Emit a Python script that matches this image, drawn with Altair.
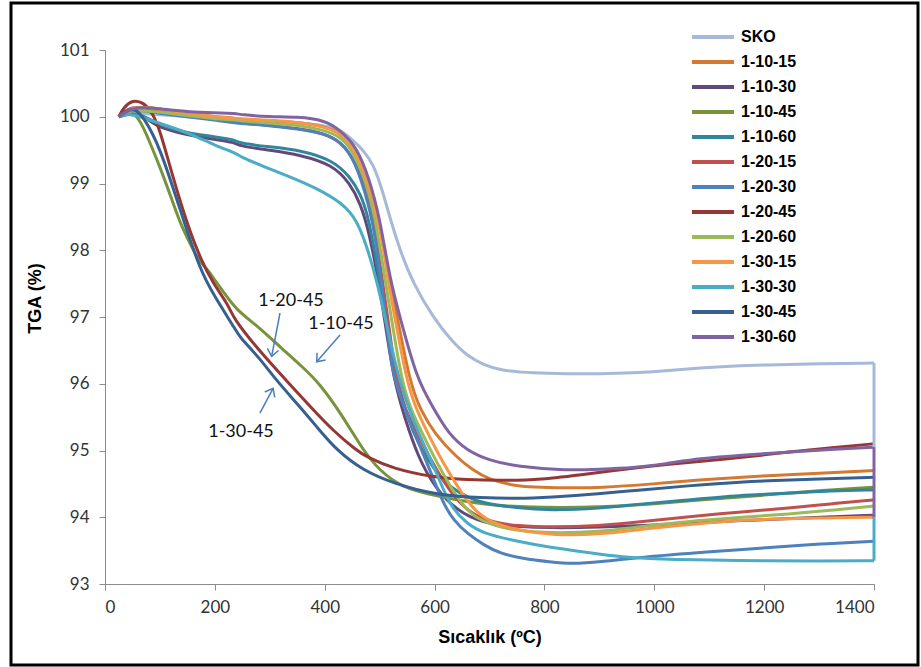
import altair as alt
import pandas as pd

SERIES = ["SKO", "1-10-15", "1-10-30", "1-10-45", "1-10-60", "1-20-15", "1-20-30",
          "1-20-45", "1-20-60", "1-30-15", "1-30-30", "1-30-45", "1-30-60"]
COLORS = ["#A7B9D8", "#D27A32", "#604A7B", "#77933C", "#31859C", "#C0504D", "#4F81BD",
          "#953735", "#9BBB59", "#F79646", "#4BACC6", "#376092", "#8064A2"]

SKO_T = [25, 40, 70, 120, 200, 300, 400, 430, 451, 470, 488, 505, 520, 537, 561, 597, 630, 659, 690, 719, 780, 841, 900, 961, 1020, 1083, 1150, 1200, 1300, 1400]
SKO_V = [100.0, 100.05, 100.05, 100.02, 99.97, 99.95, 99.88, 99.8, 99.65, 99.5, 99.3, 98.9, 98.45, 98.0, 97.5, 97.0, 96.65, 96.42, 96.28, 96.2, 96.16, 96.15, 96.15, 96.16, 96.19, 96.24, 96.27, 96.28, 96.3, 96.31]

S11015_T = [25, 45, 70, 100, 150, 200, 240, 250, 300, 350, 400, 430, 455, 475, 495, 510, 525, 555, 575, 600, 640, 670, 701, 740, 779, 840, 901, 1000, 1083, 1200, 1300, 1400]
S11015_V = [100.0, 100.1, 100.15, 100.12, 100.05, 100.0, 99.98, 99.95, 99.93, 99.92, 99.86, 99.75, 99.5, 99.1, 98.55, 97.95, 97.3, 96.0, 95.6, 95.25, 94.9, 94.7, 94.56, 94.48, 94.45, 94.44, 94.44, 94.5, 94.56, 94.62, 94.66, 94.7]

S11030_T = [25, 45, 70, 94, 130, 155, 200, 235, 245, 300, 355, 415, 446, 465, 480, 498, 512, 526, 545, 570, 600, 640, 688, 750, 810, 900, 1000, 1150, 1300, 1400]
S11030_V = [100.0, 100.05, 100.02, 99.85, 99.77, 99.72, 99.66, 99.62, 99.56, 99.5, 99.43, 99.28, 99.0, 98.7, 98.3, 97.55, 96.8, 96.06, 95.5, 94.9, 94.45, 94.1, 93.91, 93.86, 93.84, 93.85, 93.88, 93.95, 94.0, 94.03]

S11045_T = [25, 45, 64, 80, 100, 120, 137, 155, 170, 188, 200, 218, 240, 280, 319, 360, 391, 430, 470, 500, 540, 597, 688, 800, 900, 1000, 1100, 1200, 1300, 1400]
S11045_V = [100.0, 100.12, 99.95, 99.65, 99.25, 98.8, 98.4, 98.1, 97.85, 97.7, 97.55, 97.35, 97.1, 96.85, 96.55, 96.25, 96.0, 95.55, 95.0, 94.7, 94.45, 94.33, 94.18, 94.14, 94.15, 94.2, 94.27, 94.33, 94.4, 94.45]

S11060_T = [25, 45, 70, 94, 130, 155, 200, 235, 245, 300, 355, 415, 446, 465, 480, 500, 515, 532, 550, 570, 600, 628, 660, 688, 750, 810, 900, 974, 1050, 1156, 1250, 1320, 1400]
S11060_V = [100.0, 100.05, 100.02, 99.9, 99.8, 99.75, 99.7, 99.66, 99.6, 99.55, 99.5, 99.35, 99.1, 98.85, 98.5, 97.55, 96.8, 96.06, 95.5, 95.1, 94.7, 94.45, 94.3, 94.21, 94.14, 94.1, 94.13, 94.2, 94.25, 94.33, 94.36, 94.4, 94.41]

S12015_T = [25, 40, 60, 100, 150, 200, 240, 300, 350, 400, 430, 455, 480, 492, 505, 518, 530, 545, 565, 597, 630, 670, 710, 750, 810, 900, 974, 1050, 1156, 1247, 1320, 1400]
S12015_V = [100.0, 100.12, 100.15, 100.1, 100.02, 99.97, 99.92, 99.87, 99.83, 99.75, 99.62, 99.35, 98.8, 98.3, 97.55, 96.8, 96.06, 95.65, 95.3, 94.8, 94.35, 94.02, 93.92, 93.87, 93.85, 93.87, 93.93, 94.0, 94.08, 94.14, 94.2, 94.26]

S12030_T = [25, 40, 60, 100, 150, 200, 240, 300, 350, 400, 430, 455, 480, 492, 503, 514, 524, 560, 592, 616, 635, 659, 690, 719, 760, 810, 852, 900, 974, 1096, 1216, 1300, 1400]
S12030_V = [100.0, 100.08, 100.1, 100.05, 100.0, 99.95, 99.9, 99.87, 99.82, 99.75, 99.62, 99.35, 98.7, 98.2, 97.55, 96.8, 96.06, 95.33, 94.7, 94.2, 93.95, 93.76, 93.58, 93.46, 93.38, 93.33, 93.3, 93.33, 93.4, 93.48, 93.55, 93.6, 93.64]

S12045_T = [25, 35, 50, 70, 87, 100, 120, 149, 175, 197, 225, 232, 280, 330, 380, 415, 458, 477, 524, 597, 659, 720, 792, 880, 974, 1060, 1156, 1247, 1330, 1400]
S12045_V = [100.0, 100.15, 100.25, 100.22, 100.05, 99.8, 99.2, 98.4, 97.85, 97.5, 97.18, 97.0, 96.5, 96.05, 95.6, 95.3, 95.0, 94.9, 94.73, 94.6, 94.56, 94.55, 94.56, 94.65, 94.75, 94.82, 94.89, 94.98, 95.05, 95.1]

S12060_T = [25, 40, 60, 100, 150, 200, 240, 300, 350, 400, 430, 455, 480, 495, 510, 525, 540, 555, 575, 605, 640, 670, 710, 750, 810, 900, 974, 1050, 1156, 1247, 1320, 1400]
S12060_V = [100.0, 100.08, 100.1, 100.07, 100.02, 99.97, 99.95, 99.9, 99.88, 99.8, 99.7, 99.45, 98.9, 98.35, 97.55, 96.8, 96.06, 95.65, 95.3, 94.8, 94.3, 94.0, 93.87, 93.8, 93.76, 93.78, 93.86, 93.93, 94.0, 94.05, 94.1, 94.17]

S13015_T = [25, 40, 60, 100, 150, 200, 240, 300, 350, 400, 430, 455, 480, 500, 515, 532, 549, 565, 585, 616, 650, 677, 710, 750, 810, 900, 974, 1050, 1156, 1247, 1320, 1400]
S13015_V = [100.0, 100.1, 100.15, 100.12, 100.05, 100.0, 99.97, 99.95, 99.92, 99.85, 99.75, 99.52, 99.0, 98.4, 97.55, 96.8, 96.06, 95.65, 95.3, 94.8, 94.35, 94.06, 93.9, 93.81, 93.73, 93.74, 93.82, 93.88, 93.96, 93.98, 93.99, 94.0]

S13030_T = [25, 40, 64, 100, 155, 200, 240, 246, 290, 337, 380, 434, 458, 475, 495, 515, 535, 560, 600, 628, 660, 688, 750, 810, 880, 943, 1000, 1065, 1200, 1300, 1400]
S13030_V = [100.0, 100.05, 100.0, 99.9, 99.75, 99.57, 99.45, 99.4, 99.25, 99.1, 98.95, 98.7, 98.45, 98.1, 97.55, 96.8, 96.06, 95.45, 94.75, 94.15, 93.9, 93.76, 93.64, 93.55, 93.47, 93.4, 93.38, 93.36, 93.35, 93.34, 93.35]

S13045_T = [25, 40, 55, 70, 100, 137, 173, 200, 240, 245, 280, 312, 350, 386, 422, 470, 524, 604, 688, 750, 810, 900, 974, 1060, 1156, 1250, 1330, 1400]
S13045_V = [100.0, 100.1, 100.12, 100.0, 99.55, 98.6, 97.7, 97.3, 96.78, 96.7, 96.4, 96.05, 95.7, 95.35, 95.0, 94.7, 94.51, 94.33, 94.29, 94.28, 94.3, 94.35, 94.41, 94.47, 94.53, 94.56, 94.58, 94.6]

S13060_T = [25, 40, 60, 100, 155, 200, 240, 246, 300, 350, 400, 428, 458, 480, 500, 519, 537, 568, 597, 625, 659, 700, 750, 841, 900, 961, 1020, 1083, 1156, 1250, 1330, 1400]
S13060_V = [100.0, 100.08, 100.15, 100.12, 100.07, 100.06, 100.05, 100.03, 100.0, 100.0, 99.95, 99.8, 99.55, 99.1, 98.5, 97.55, 97.0, 96.06, 95.65, 95.25, 95.0, 94.85, 94.76, 94.7, 94.72, 94.74, 94.8, 94.88, 94.93, 94.98, 95.02, 95.05]

# vertical end segments at 1400 °C
END_SERIES = ["SKO", "1-30-30", "1-30-60"]
END_FROM = [96.31, 93.35, 95.05]
END_TO = [95.05, 94.0, 94.0]

# annotations
ANN_TEXT = ["1-20-45", "1-10-45", "1-30-45"]
ANN_TX = [338.6, 429.6, 247.6]
ANN_TY = [97.24, 96.90, 95.28]
ARR_X1 = [318.6, 427.8, 282.0]
ARR_Y1 = [97.06, 96.73, 95.56]
ARR_X2 = [303.4, 385.4, 306.0]
ARR_Y2 = [96.41, 96.33, 95.93]
ARR_ANG = [100.9, 131.1, 298.1]

X_TICKS = [0, 200, 400, 600, 800, 1000, 1200, 1400]
Y_TICKS = [93, 94, 95, 96, 97, 98, 99, 100, 101]

ALL = [(SKO_T, SKO_V), (S11015_T, S11015_V), (S11030_T, S11030_V), (S11045_T, S11045_V),
       (S11060_T, S11060_V), (S12015_T, S12015_V), (S12030_T, S12030_V), (S12045_T, S12045_V),
       (S12060_T, S12060_V), (S13015_T, S13015_V), (S13030_T, S13030_V), (S13045_T, S13045_V),
       (S13060_T, S13060_V)]

rows = []
for k, (name, (ts, vs)) in enumerate(zip(SERIES, ALL)):
    for t, v in zip(ts, vs):
        rows.append({"series": name, "order": k, "T": t, "V": v})
df = pd.DataFrame(rows)

end_df = pd.DataFrame({"series": END_SERIES, "T": [1400] * 3, "V": END_FROM, "V2": END_TO})
ann_df = pd.DataFrame({"label": ANN_TEXT, "T": ANN_TX, "V": ANN_TY})
arr_df = pd.DataFrame({"x1": ARR_X1, "y1": ARR_Y1, "x2": ARR_X2, "y2": ARR_Y2, "ang": ARR_ANG})

xscale = alt.Scale(domain=[0, 1400], nice=False, zero=False)
yscale = alt.Scale(domain=[93, 101], nice=False, zero=False)
cscale = alt.Scale(domain=SERIES, range=COLORS)

legend = alt.Legend(
    title=None, orient="none", legendX=585, legendY=-25.5,
    symbolType="stroke", symbolSize=1764, symbolStrokeWidth=4,
    labelFont="Liberation Sans", labelFontSize=16, labelFontWeight="bold",
    labelColor="#000000", labelOffset=5, clipHeight=25, rowPadding=0, padding=0,
)

xaxis = alt.Axis(
    values=X_TICKS, format="d", grid=False, tickSize=6, domainColor="#8C8C8C", tickColor="#8C8C8C",
    labelFont="Lato", labelFontSize=17, labelColor="#333333", labelPadding=9,
    title="Sıcaklık (ºC)", titleFont="Liberation Sans", titleFontSize=18,
    titleFontWeight="bold", titleColor="#000000", titleBaseline="middle", titleY=53,
)
yaxis = alt.Axis(
    values=Y_TICKS, format="d", grid=False, tickSize=6, domainColor="#8C8C8C", tickColor="#8C8C8C",
    labelFont="Lato", labelFontSize=17, labelColor="#333333", labelPadding=10,
    title="TGA (%)", titleFont="Liberation Sans", titleFontSize=18,
    titleFontWeight="bold", titleColor="#000000", titleBaseline="middle",
    titleX=-70, titleY=248, titleAngle=270, titleAlign="center",
)

lines = alt.Chart(df).mark_line(interpolate="basis", strokeWidth=3).encode(
    x=alt.X("T:Q", scale=xscale, axis=xaxis),
    y=alt.Y("V:Q", scale=yscale, axis=yaxis),
    color=alt.Color("series:N", scale=cscale, sort=SERIES, legend=legend),
    detail="order:O",
)

ends = alt.Chart(end_df).mark_rule(strokeWidth=3).encode(
    x="T:Q", y="V:Q", y2="V2:Q",
    color=alt.Color("series:N", scale=cscale, sort=SERIES, legend=legend),
)

arrows = alt.Chart(arr_df).mark_rule(color="#4A7EBB", strokeWidth=1.5).encode(
    x="x1:Q", y="y1:Q", x2="x2:Q", y2="y2:Q",
)
heads = alt.Chart(arr_df).mark_point(
    shape="M-1,-0.8L0,0L-1,0.8", filled=False, stroke="#4A7EBB", strokeWidth=1.5,
    size=200, opacity=1,
).encode(x="x2:Q", y="y2:Q", angle=alt.Angle("ang:Q", scale=None))

labels = alt.Chart(ann_df).mark_text(
    font="Lato", fontSize=18, color="#111111", align="center", baseline="middle",
).encode(x="T:Q", y="V:Q", text="label:N")

frame = alt.Chart(pd.DataFrame({"a": [0]})).mark_rect(
    fillOpacity=0, stroke="#000000", strokeWidth=3,
).encode(x=alt.value(-94), x2=alt.value(813), y=alt.value(-47), y2=alt.value(615))

chart = alt.layer(lines, ends, arrows, heads, labels, frame).properties(
    width=769, height=534,
    autosize=alt.AutoSizeParams(type="none"),
    padding={"left": 105, "top": 50, "right": 47, "bottom": 83},
    background="#FFFFFF",
).configure_view(stroke=None)

chart.save("out.html", embed_options={"renderer": "svg", "actions": False})
